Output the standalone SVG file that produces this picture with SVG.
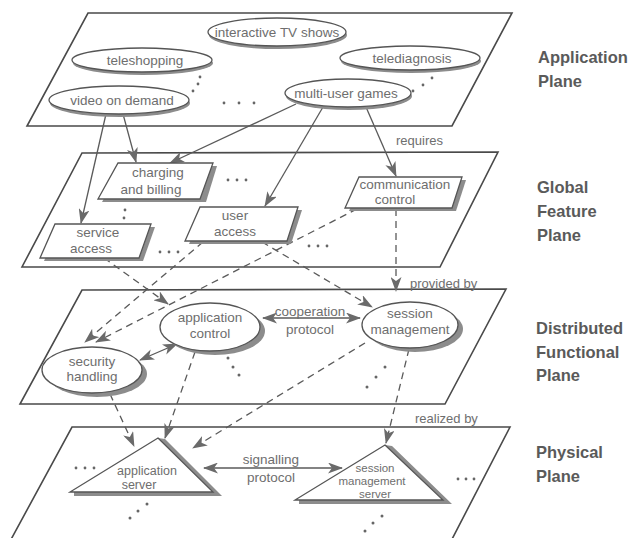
<svg xmlns="http://www.w3.org/2000/svg" width="633" height="538" viewBox="0 0 633 538">
<defs>
<marker id="ah" markerUnits="userSpaceOnUse" markerWidth="15" markerHeight="11" refX="14" refY="5.5" orient="auto-start-reverse">
<path d="M0,0 L15,5.5 L0,11 L4,5.5 z" fill="#6a6a6a"/>
</marker>
<style>
.plane{fill:none;stroke:#4a4a4a;stroke-width:1.6}
.node{fill:#fff;stroke:#555;stroke-width:1.3}
.shd{fill:#8c8c8c}
.t{font-family:"Liberation Sans",Arial,sans-serif;font-size:13.5px;fill:#6e6e6e;text-anchor:middle}
.ts{font-size:12.5px}
.tx{font-size:11.5px}
.lab{font-family:"Liberation Sans",Arial,sans-serif;font-size:16.5px;font-weight:bold;fill:#5a5a5a}
.rel{font-family:"Liberation Sans",Arial,sans-serif;font-size:13px;fill:#6e6e6e}
.c{fill:none;stroke:#5a5a5a;stroke-width:1.3;marker-end:url(#ah)}
.d{stroke-dasharray:7,5}
.b{marker-start:url(#ah)}
.dot{fill:#666}
</style>
</defs>
<rect width="633" height="538" fill="#fff"/>

<g id="planes">
<polygon class="plane" points="88,13 512,13 452,126 27,126"/>
<polygon class="plane" points="82,153 498,152 440,267 22,267"/>
<polygon class="plane" points="82,290 506,289 445,404 20,404"/>
<polygon class="plane" points="72,427 510,427 449,545 8,545"/>
</g>

<g id="plane-labels">
<text class="lab" x="538" y="63">Application</text>
<text class="lab" x="538" y="87">Plane</text>
<text class="lab" x="537" y="193">Global</text>
<text class="lab" x="537" y="217">Feature</text>
<text class="lab" x="537" y="241">Plane</text>
<text class="lab" x="536" y="334">Distributed</text>
<text class="lab" x="536" y="358">Functional</text>
<text class="lab" x="536" y="381">Plane</text>
<text class="lab" x="536" y="458">Physical</text>
<text class="lab" x="536" y="482">Plane</text>
<text class="rel" x="396" y="145">requires</text>
<text class="rel" x="410" y="288">provided by</text>
<text class="rel" x="415" y="423">realized by</text>
</g>

<g id="connectors">
<path class="c" d="M123,114 L136,162"/>
<path class="c" d="M106,114 L81,223"/>
<path class="c" d="M296,104 L170,163"/>
<path class="c" d="M323,107 L265,206"/>
<path class="c" d="M366,107 L396,176"/>
<path class="c d" d="M104,258 L168,304"/>
<path class="c d" d="M203,242 L85,342"/>
<path class="c d" d="M357,209 L96,342"/>
<path class="c d" d="M262,242 L372,307"/>
<path class="c d" d="M396,209 L396,291"/>
<path class="c d" d="M110,394 L134,446"/>
<path class="c d" d="M195,352 L165,438"/>
<path class="c d" d="M365,343 L193,448"/>
<path class="c d" d="M409,349 L386,443"/>
<path class="c b" d="M263,318 L360,318"/>
<path class="c b" d="M140,360 L177,344"/>
<path class="c b" d="M204,468 L342,468"/>
<text class="t" x="310" y="316">cooperation</text>
<text class="t" x="310" y="334">protocol</text>
<text class="t" x="271" y="464">signalling</text>
<text class="t" x="271" y="482">protocol</text>
</g>

<g id="interactive-tv-shows">
<ellipse class="shd" cx="278" cy="35" rx="69" ry="14"/>
<ellipse class="node" cx="277" cy="32" rx="69" ry="14"/>
<text class="t" x="277" y="37">interactive TV shows</text>
</g>
<g id="teleshopping">
<ellipse class="shd" cx="143" cy="63" rx="70" ry="12"/>
<ellipse class="node" cx="142" cy="60" rx="70" ry="12"/>
<text class="t" x="145" y="65">teleshopping</text>
</g>
<g id="telediagnosis">
<ellipse class="shd" cx="411" cy="61" rx="70" ry="12"/>
<ellipse class="node" cx="410" cy="58" rx="70" ry="12"/>
<text class="t" x="412" y="63">telediagnosis</text>
</g>
<g id="video-on-demand">
<ellipse class="shd" cx="120" cy="103" rx="70" ry="14"/>
<ellipse class="node" cx="119" cy="100" rx="70" ry="14"/>
<text class="t" x="122" y="105">video on demand</text>
</g>
<g id="multi-user-games">
<ellipse class="shd" cx="349" cy="96" rx="63" ry="14"/>
<ellipse class="node" cx="348" cy="93" rx="63" ry="14"/>
<text class="t" x="346" y="98">multi-user games</text>
</g>
<g id="app-dots" class="dot">
<circle cx="224" cy="103" r="1.4"/><circle cx="239" cy="103" r="1.4"/><circle cx="254" cy="103" r="1.4"/>
<circle cx="200" cy="77" r="1.4"/><circle cx="198" cy="84" r="1.4"/><circle cx="193" cy="91" r="1.4"/>
<circle cx="432" cy="78" r="1.4"/><circle cx="423" cy="85" r="1.4"/><circle cx="413" cy="91" r="1.4"/>
</g>

<g id="charging-and-billing">
<polygon class="shd" points="122,166 217,166 206,202 102,202"/>
<polygon class="node" points="118,163 213,163 200,199 98,199"/>
<text class="t" x="158" y="177">charging</text>
<text class="t" x="151" y="194">and billing</text>
</g>
<g id="user-access">
<polygon class="shd" points="204,210 302,210 291,244 189,244"/>
<polygon class="node" points="200,207 298,207 287,241 185,241"/>
<text class="t" x="235" y="220">user</text>
<text class="t" x="235" y="236">access</text>
</g>
<g id="service-access">
<polygon class="shd" points="59,227 155,227 143,261 44,261"/>
<polygon class="node" points="55,224 151,224 139,258 40,258"/>
<text class="t" x="98" y="237">service</text>
<text class="t" x="91" y="253">access</text>
</g>
<g id="communication-control">
<polygon class="shd" points="363,180 466,180 456,211 349,211"/>
<polygon class="node" points="359,177 462,177 452,208 345,208"/>
<text class="t" x="405" y="189">communication</text>
<text class="t" x="395" y="204">control</text>
</g>
<g id="feature-dots" class="dot">
<circle cx="228" cy="180" r="1.4"/><circle cx="237" cy="180" r="1.4"/><circle cx="246" cy="180" r="1.4"/>
<circle cx="125" cy="210" r="1.4"/><circle cx="124" cy="218" r="1.4"/>
<circle cx="160" cy="252" r="1.4"/><circle cx="169" cy="252" r="1.4"/><circle cx="178" cy="252" r="1.4"/>
<circle cx="309" cy="246" r="1.4"/><circle cx="318" cy="246" r="1.4"/><circle cx="327" cy="246" r="1.4"/>
</g>

<g id="application-control">
<ellipse class="shd" cx="215" cy="331" rx="50" ry="24"/>
<ellipse class="node" cx="210" cy="327" rx="50" ry="24"/>
<text class="t" x="210" y="322">application</text>
<text class="t" x="210" y="338">control</text>
</g>
<g id="session-management">
<ellipse class="shd" cx="415" cy="329" rx="48" ry="23"/>
<ellipse class="node" cx="410" cy="325" rx="48" ry="23"/>
<text class="t" x="410" y="318">session</text>
<text class="t" x="410" y="334">management</text>
</g>
<g id="security-handling">
<ellipse class="shd" cx="97" cy="374" rx="50" ry="23"/>
<ellipse class="node" cx="92" cy="370" rx="50" ry="23"/>
<text class="t" x="92" y="366">security</text>
<text class="t" x="92" y="381">handling</text>
</g>
<g id="functional-dots" class="dot">
<circle cx="228" cy="358" r="1.5"/><circle cx="233" cy="367" r="1.5"/><circle cx="239" cy="375" r="1.5"/>
<circle cx="385" cy="367" r="1.5"/><circle cx="376" cy="377" r="1.5"/><circle cx="367" cy="387" r="1.5"/>
</g>

<g id="application-server">
<polygon class="shd" points="165,439 222,496 74,496 74,492 213,492 158,438"/>
<polygon class="node" points="158,438 213,492 70,492"/>
<text class="t ts" x="147" y="475">application</text>
<text class="t ts" x="139" y="489">server</text>
</g>
<g id="session-management-server">
<polygon class="shd" points="392,446 452,504 299,504 299,500 443,500 385,445"/>
<polygon class="node" points="385,445 443,500 295,500"/>
<text class="t tx" x="375" y="472">session</text>
<text class="t tx" x="372" y="485">management</text>
<text class="t tx" x="375" y="498">server</text>
</g>
<g id="physical-dots" class="dot">
<circle cx="76" cy="468" r="1.4"/><circle cx="85" cy="468" r="1.4"/><circle cx="94" cy="468" r="1.4"/>
<circle cx="458" cy="479" r="1.4"/><circle cx="466" cy="479" r="1.4"/><circle cx="474" cy="479" r="1.4"/>
<circle cx="147" cy="504" r="1.5"/><circle cx="138" cy="511" r="1.5"/><circle cx="130" cy="518" r="1.5"/>
<circle cx="382" cy="516" r="1.5"/><circle cx="373" cy="523" r="1.5"/><circle cx="365" cy="531" r="1.5"/>
</g>
</svg>
